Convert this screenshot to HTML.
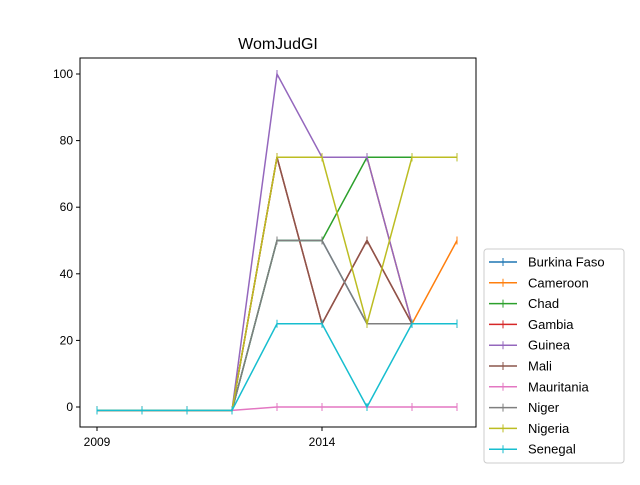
<!DOCTYPE html>
<html><head><meta charset="utf-8"><style>
body{margin:0;background:#fff;font-family:"Liberation Sans","DejaVu Sans",sans-serif}
</style></head><body>
<svg id="c" width="640" height="480" xmlns="http://www.w3.org/2000/svg">
<rect width="640" height="480" fill="#fff"/>
<text x="278" y="49" font-size="16" text-anchor="middle">WomJudGI</text>
<g id="plot"></g>
<rect x="80" y="58" width="396" height="369" fill="none" stroke="#000" stroke-width="1"/>
<g id="axes"></g>
<g id="legend"></g>
</svg>
<script>
const years=[2009,2010,2011,2012,2013,2014,2015,2016,2017];
const seriesNames=["Burkina Faso","Cameroon","Chad","Gambia","Guinea","Mali","Mauritania","Niger","Nigeria","Senegal"];
const colors=["#1f77b4","#ff7f0e","#2ca02c","#d62728","#9467bd","#8c564b","#e377c2","#7f7f7f","#bcbd22","#17becf"];
const burkina=[-1,-1,-1,-1,50,50,25,25,25];
const cameroon=[-1,-1,-1,-1,75,75,75,25,50];
const chad=[-1,-1,-1,-1,50,50,75,75,75];
const gambia=[-1,-1,-1,-1,75,25,50,25,25];
const guinea=[-1,-1,-1,-1,100,75,75,25,25];
const mali=[-1,-1,-1,-1,75,25,50,25,25];
const mauritania=[-1,-1,-1,-1,0,0,0,0,0];
const niger=[-1,-1,-1,-1,50,50,25,25,25];
const nigeria=[-1,-1,-1,-1,75,75,25,75,75];
const senegal=[-1,-1,-1,-1,25,25,0,25,25];
const allSeries=[burkina,cameroon,chad,gambia,guinea,mali,mauritania,niger,nigeria,senegal];
const yTicks=[0,20,40,60,80,100];
const xTicks=[2009,2014];
const NS="http://www.w3.org/2000/svg";
const xs=v=>97+(v-2009)*45;
const ys=v=>407-v*3.33;
function mk(t,a,p){const e=document.createElementNS(NS,t);for(const k in a)e.setAttribute(k,a[k]);p.appendChild(e);return e;}
const plot=document.getElementById('plot'),axes=document.getElementById('axes'),leg=document.getElementById('legend');
allSeries.forEach((s,i)=>{
 const g=mk('g',{},plot);
 
 
 mk('polyline',{points:s.map((v,j)=>xs(years[j])+','+ys(v)).join(' '),fill:'none',stroke:colors[i],'stroke-width':1.5},g);
 s.forEach((v,j)=>{mk('line',{x1:xs(years[j]),x2:xs(years[j]),y1:ys(v)-4,y2:ys(v)+4,stroke:colors[i],'stroke-width':1},g);});
});
yTicks.forEach(t=>{
 const g=mk('g',{},axes);
 
 
 mk('line',{x1:76,x2:80,y1:ys(t),y2:ys(t),stroke:'#000'},g);
 const tx=mk('text',{x:73,y:ys(t)+4,'font-size':12,'text-anchor':'end'},g);tx.textContent=t;
});
xTicks.forEach(t=>{
 const g=mk('g',{},axes);
 
 
 mk('line',{x1:xs(t),x2:xs(t),y1:427,y2:431,stroke:'#000'},g);
 const tx=mk('text',{x:xs(t),y:446,'font-size':12,'text-anchor':'middle'},g);tx.textContent=t;
});
mk('rect',{x:484,y:249,width:140,height:214,rx:3,fill:'#fff',stroke:'#ccc'},leg);
seriesNames.forEach((n,i)=>{
 const g=mk('g',{},leg);
 
 
 const y=262+i*20.8;
 mk('line',{x1:489,x2:517,y1:y,y2:y,stroke:colors[i],'stroke-width':1.5},g);
 mk('line',{x1:503,x2:503,y1:y-4,y2:y+4,stroke:colors[i]},g);
 const tx=mk('text',{x:528,y:y+4.5,'font-size':13},g);tx.textContent=n;
});
</script>
</body></html>
